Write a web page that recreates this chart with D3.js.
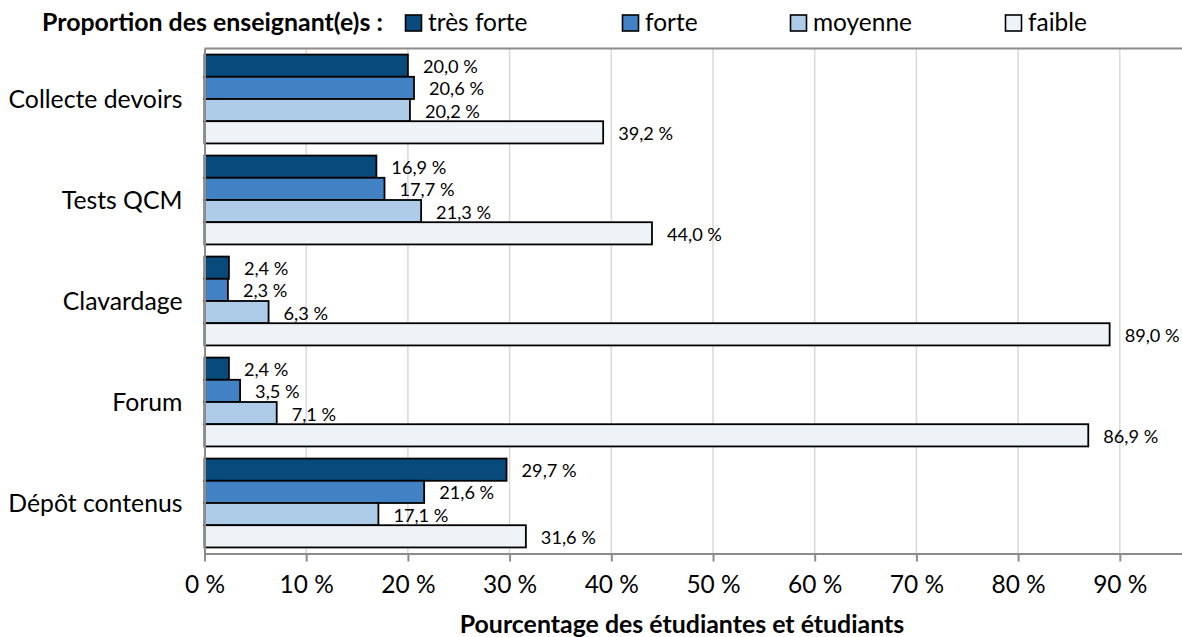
<!DOCTYPE html>
<html>
<head>
<meta charset="utf-8">
<script src="https://cdn.jsdelivr.net/npm/d3@7"></script>
<style>
  html, body { margin: 0; padding: 0; background: #fff; overflow: hidden; }
  svg { display: block; }
</style>
</head>
<body>
<svg id="chart"></svg>
<script>
'use strict';

var categories = ['Collecte devoirs', 'Tests QCM', 'Clavardage', 'Forum', 'Dépôt contenus'];
var seriesNames = ['très forte', 'forte', 'moyenne', 'faible'];
var tresForte = [20.0, 16.9, 2.4, 2.4, 29.7];
var forte = [20.6, 17.7, 2.3, 3.5, 21.6];
var moyenne = [20.2, 21.3, 6.3, 7.1, 17.1];
var faible = [39.2, 44.0, 89.0, 86.9, 31.6];
var xTicks = [0, 10, 20, 30, 40, 50, 60, 70, 80, 90];
var legendTitle = 'Proportion des enseignant(e)s :';
var xTitle = 'Pourcentage des étudiantes et étudiants';

var colors = ['#094a7c', '#4282c4', '#aecbe8', '#eef3f8'];
var seriesValues = [tresForte, forte, moyenne, faible];

var width = 1182;
var height = 637;
var FONT = 'Lato, "Open Sans", sans-serif';

var svg = d3.select('#chart')
  .attr('width', width)
  .attr('height', height)
  .attr('font-family', FONT);

// the original uses Calibri, so size the substitute font to the measured widths
function fitSize(str, weight, target) {
  var t = svg.append('text')
    .attr('font-size', 100)
    .attr('font-weight', weight)
    .text(str);
  var w = t.node().getComputedTextLength();
  t.remove();
  return 100 * target / w;
}

var catSize = fitSize('Collecte devoirs', 400, 174);
var labelSize = fitSize('89,0 %', 400, 55);
var legendSize = fitSize('moyenne', 400, 99);
var boldSize = fitSize(legendTitle, 700, 341);

var plot = { left: 204.5, top: 48.5, bottom: 553.5 };

// the plot area runs past the right edge of the picture (100 % is off screen)
var x = d3.scaleLinear()
  .domain([0, 100])
  .range([plot.left, plot.left + 1017]);

var y = d3.scaleBand()
  .domain(categories)
  .range([plot.top, plot.bottom])
  .paddingInner(0.12)
  .paddingOuter(0.06);

var ySub = d3.scaleBand()
  .domain(seriesNames)
  .range([0, y.bandwidth()]);

var fr = d3.formatLocale({ decimal: ',', thousands: ' ', grouping: [3], currency: ['', ' €'] });
var fmt = fr.format('.1f');

// gridlines
svg.append('g')
  .selectAll('line')
  .data(xTicks.filter(function(d) { return d > 0; }))
  .join('line')
  .attr('x1', function(d) { return x(d); })
  .attr('x2', function(d) { return x(d); })
  .attr('y1', plot.top)
  .attr('y2', plot.bottom)
  .attr('stroke', '#d9d9d9')
  .attr('stroke-width', 1.5);

// top frame line
svg.append('line')
  .attr('x1', plot.left)
  .attr('x2', width)
  .attr('y1', plot.top)
  .attr('y2', plot.top)
  .attr('stroke', '#8c8c8c')
  .attr('stroke-width', 2);

// bars
var groups = svg.append('g')
  .selectAll('g')
  .data(categories)
  .join('g')
  .attr('transform', function(d) { return 'translate(0,' + y(d) + ')'; });

groups.selectAll('rect')
  .data(function(d, i) {
    return seriesNames.map(function(s, j) {
      return { series: s, idx: j, value: seriesValues[j][i] };
    });
  })
  .join('rect')
  .attr('x', x(0))
  .attr('y', function(d) { return ySub(d.series); })
  .attr('width', function(d) { return x(d.value) - x(0); })
  .attr('height', ySub.bandwidth())
  .attr('fill', function(d) { return colors[d.idx]; })
  .attr('stroke', '#000')
  .attr('stroke-width', 1.8);

groups.selectAll('text')
  .data(function(d, i) {
    return seriesNames.map(function(s, j) {
      return { series: s, value: seriesValues[j][i] };
    });
  })
  .join('text')
  .attr('x', function(d) { return x(d.value) + 15; })
  .attr('y', function(d) { return ySub(d.series) + ySub.bandwidth() / 2 + 1; })
  .attr('dy', '0.36em')
  .attr('font-size', labelSize)
  .attr('fill', '#000')
  .text(function(d) { return fmt(d.value) + ' %'; });

// left axis
var yAxis = svg.append('g')
  .attr('transform', 'translate(' + plot.left + ',0)')
  .call(d3.axisLeft(y).tickSize(0).tickPadding(22));
yAxis.select('.domain').attr('stroke', '#8c8c8c').attr('stroke-width', 2);
yAxis.selectAll('text')
  .attr('font-family', FONT)
  .attr('font-size', catSize)
  .attr('fill', '#000')
  .attr('dy', '0.36em');

// bottom axis
var xAxis = svg.append('g')
  .attr('transform', 'translate(0,' + plot.bottom + ')')
  .call(d3.axisBottom(x)
    .tickValues(xTicks)
    .tickSize(8)
    .tickSizeOuter(0)
    .tickPadding(14)
    .tickFormat(function(d) { return d + ' %'; }));
xAxis.select('.domain').attr('stroke', '#8c8c8c').attr('stroke-width', 2);
xAxis.selectAll('.tick line').attr('stroke', '#8c8c8c').attr('stroke-width', 2);
xAxis.selectAll('text')
  .attr('font-family', FONT)
  .attr('font-size', legendSize)
  .attr('fill', '#000');

svg.append('text')
  .attr('x', 682)
  .attr('y', 633)
  .attr('text-anchor', 'middle')
  .attr('font-weight', 700)
  .attr('font-size', boldSize)
  .text(xTitle);

// legend
var legendX = [405, 622, 790, 1005];
var legend = svg.append('g');
legend.append('text')
  .attr('x', 42)
  .attr('y', 31)
  .attr('font-weight', 700)
  .attr('font-size', boldSize)
  .text(legendTitle);

var items = legend.selectAll('g.item')
  .data(seriesNames)
  .join('g')
  .attr('class', 'item')
  .attr('transform', function(d, i) { return 'translate(' + legendX[i] + ',0)'; });

items.append('rect')
  .attr('x', 0.5)
  .attr('y', 15)
  .attr('width', 16)
  .attr('height', 16)
  .attr('fill', function(d, i) { return colors[i]; })
  .attr('stroke', '#000')
  .attr('stroke-width', 1.6);

items.append('text')
  .attr('x', 23)
  .attr('y', 31)
  .attr('font-size', legendSize)
  .text(function(d) { return d; });
</script>
</body>
</html>
